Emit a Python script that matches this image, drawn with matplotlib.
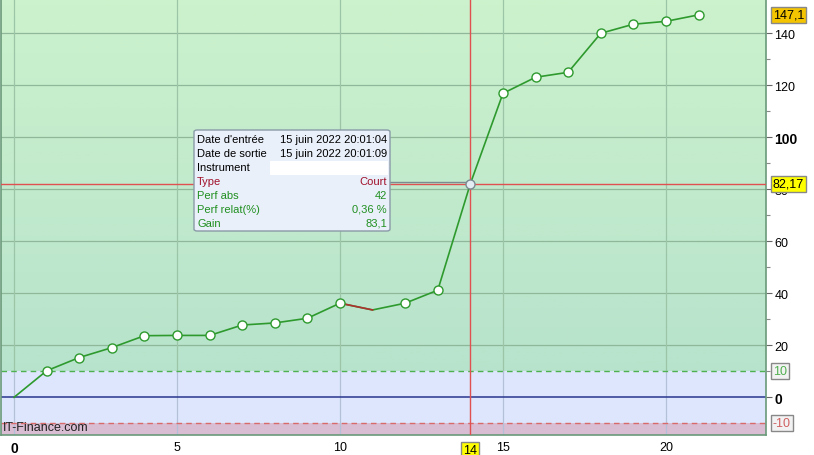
import matplotlib
matplotlib.use('Agg')
import matplotlib.pyplot as plt
import numpy as np
from matplotlib.patches import FancyBboxPatch, Rectangle

plt.rcParams['font.family'] = ['Liberation Sans', 'DejaVu Sans']

# data
x = np.arange(22)
equity = [0, 10.2, 15.3, 19.1, 23.7, 23.8, 23.8, 27.8, 28.6, 30.4, 36.2,
          33.6, 36.2, 41.2, 82.17, 116.9, 123.1, 125.0, 140.0, 143.5, 144.6, 147.1]
loss_seg = 10          # segment 10 -> 11 drawn in red
no_marker = [0, 11]
cross_x = 14
cross_y = 82.17
upper_band = 10
lower_band = -10
xticks = [0, 5, 10, 15, 20]
yticks = [0, 20, 40, 60, 80, 100, 120, 140]

tip_labels = ["Date d'entrée", "Date de sortie", "Instrument", "Type",
              "Perf abs", "Perf relat(%)", "Gain"]
tip_values = ["15 juin 2022 20:01:04", "15 juin 2022 20:01:09", "", "Court",
              "42", "0,36 %", "83,1"]
tip_colors = ['black', 'black', 'black', '#a0102a', '#1f8f1f', '#1f8f1f', '#1f8f1f']

fig = plt.figure(figsize=(8.14, 4.56), dpi=100)
ax = fig.add_axes([1 / 814, 20 / 456, 765 / 814, 436 / 456])
xmin, xmax = -0.4, 23.07
ymin, ymax = -14.5, 153.2
ax.set_xlim(xmin, xmax)
ax.set_ylim(ymin, ymax)

# backgrounds
grad = np.linspace(0, 1, 256).reshape(-1, 1)
top_c = np.array([0.80, 0.95, 0.80])
bot_c = np.array([0.72, 0.89, 0.80])
img = bot_c + (top_c - bot_c) * grad[..., None]
ax.imshow(img, extent=[xmin, xmax, upper_band, ymax], origin='lower',
          aspect='auto', zorder=0)
ax.axhspan(lower_band, upper_band, color='#dde6fc', zorder=0, lw=0)
ax.axhspan(ymin, lower_band, color='#d9bdd3', zorder=0, lw=0)

# grid
for v in yticks[1:]:
    ax.axhline(v, color='#8fb89a', lw=0.9, zorder=1)
for v in xticks:
    ax.plot([v, v], [upper_band, ymax], color='#9cc4a6', lw=0.9, zorder=1)
    ax.plot([v, v], [ymin, upper_band], color='#b4c0d8', lw=0.9, zorder=1)

ax.axhline(upper_band, color='#4fb04f', lw=1, ls=(0, (4, 3)), zorder=2)
ax.axhline(lower_band, color='#d86a6a', lw=1, ls=(0, (4, 3)), zorder=2)
ax.axhline(0, color='#2a3590', lw=1.1, zorder=2)

# crosshair
ax.axvline(cross_x, color='#e05050', lw=1, zorder=3)
ax.axhline(cross_y, color='#e05050', lw=1, zorder=3)
ax.plot([(390 - 14) / 32.6, cross_x], [cross_y + 0.7, cross_y + 0.7],
        color='#7a8a90', lw=1, zorder=3)

# equity curve
ax.plot(x, equity, color='#2e9a2e', lw=1.2, zorder=4)
ax.plot(x[loss_seg:loss_seg + 2], equity[loss_seg:loss_seg + 2],
        color='#b03030', lw=1.2, zorder=4)
mk = [i for i in x if i not in no_marker and i != cross_x]
ax.plot(mk, [equity[i] for i in mk], 'o', ms=6.5, mfc='white', mec='#2e9a2e',
        mew=1, zorder=5, ls='none')
ax.plot([cross_x], [equity[cross_x]], 'o', ms=6.5, mfc='#e4ecf4', mec='#7a8a90',
        mew=1, zorder=5)

# spines and ticks
for s in ['top']:
    ax.spines[s].set_visible(False)
for s in ['left', 'right', 'bottom']:
    ax.spines[s].set_color('#6a9a7a')
    ax.spines[s].set_linewidth(1.2)
ax.yaxis.tick_right()
ax.set_yticks(yticks)
ax.set_yticks(np.arange(10, 150, 20), minor=True)
ax.set_yticklabels([str(v) for v in yticks])
ax.tick_params(axis='y', which='major', length=4, width=0.8, color='#666666',
               labelsize=9, pad=2)
ax.tick_params(axis='y', which='minor', length=3, width=0.8, color='#888888')
ax.set_xticks(xticks)
ax.set_xticklabels([str(v) for v in xticks])
ax.tick_params(axis='x', length=0, labelsize=9, pad=4)
for lbl in ax.get_yticklabels():
    if lbl.get_text() in ('0', '100'):
        lbl.set_fontweight('bold')
        lbl.set_fontsize(10)
ax.get_xticklabels()[0].set_fontweight('bold')
ax.get_xticklabels()[0].set_fontsize(10)

# right-side value boxes
def side_box(val, text, fc, tc, ec='#888888'):
    ax.annotate(text, xy=(1, val), xycoords=('axes fraction', 'data'),
                xytext=(5, 0), textcoords='offset points', va='center',
                ha='left', fontsize=9, color=tc, zorder=10,
                bbox=dict(boxstyle='square,pad=0.15', fc=fc, ec=ec, lw=1),
                annotation_clip=False)

side_box(equity[-1], '147,1', '#f5c400', 'black')
side_box(cross_y, '82,17', '#ffff00', 'black')
side_box(upper_band, '10', '#f2f2f2', '#50b050')
side_box(lower_band, '-10', '#f2f2f2', '#d06060')

ax.annotate(str(cross_x), xy=(cross_x, 0), xycoords=('data', 'axes fraction'),
            xytext=(0, -11), textcoords='offset points', ha='center',
            va='center', fontsize=9, zorder=10,
            bbox=dict(boxstyle='square,pad=0.15', fc='#ffff00', ec='#888888', lw=1),
            annotation_clip=False)

ax.text(0.003, 0.012, 'IT-Finance.com', transform=ax.transAxes, fontsize=9,
        color='#222222', zorder=6)

# tooltip
W, H = 814, 456
box = FancyBboxPatch((194 / W, 1 - 232 / H), 196 / W, 101 / H,
                     boxstyle='round,pad=0,rounding_size=0.004',
                     transform=fig.transFigure, fc='#eaf0fa', ec='#8a9aa8',
                     lw=1, zorder=20)
fig.patches.append(box)
fig.patches.append(Rectangle((270 / W, 1 - 176 / H), 118 / W, 14 / H,
                             transform=fig.transFigure, fc='white', ec='none',
                             zorder=21))
for i, (lab, val, col) in enumerate(zip(tip_labels, tip_values, tip_colors)):
    yy = 1 - (140 + 14 * i) / H
    fig.text(197 / W, yy, lab, fontsize=8, color=col, va='center', zorder=22)
    fig.text(387 / W, yy, val, fontsize=8, color=col, va='center', ha='right',
             zorder=22)

fig.savefig('out.png', dpi=100)
